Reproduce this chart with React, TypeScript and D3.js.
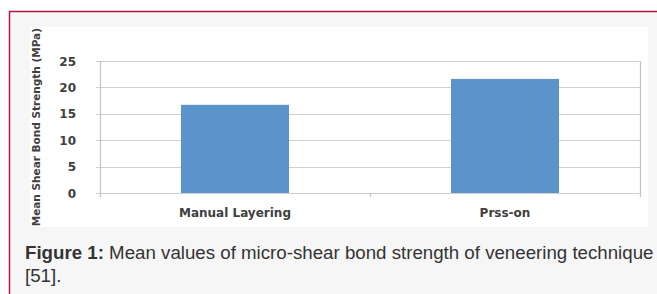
import React, { useEffect, useRef } from 'react';
import * as d3 from 'd3';

const categories = ['Manual Layering', 'Prss-on'];
const meanStrength = [16.7, 21.6];
const yTicks = [0, 5, 10, 15, 20, 25];
const yTitle = 'Mean Shear Bond Strength (MPa)';
const captionBold = 'Figure 1:';
const captionLine1 = ' Mean values of micro-shear bond strength of veneering technique';
const captionLine2 = '[51].';

function App() {
  const ref = useRef<SVGSVGElement>(null);

  useEffect(() => {
    const W = 657;
    const H = 294;
    const svg = d3.select(ref.current);
    svg.selectAll('*').remove();

    const font = "'Liberation Sans', Arial, sans-serif";
    const chartFont = "'DejaVu Sans', Verdana, sans-serif";

    // page + framed box
    svg.append('rect').attr('width', W).attr('height', H).attr('fill', '#ffffff');
    svg.append('rect').attr('x', 9).attr('y', 11).attr('width', W - 9).attr('height', H - 11).attr('fill', '#f7f6f7');
    svg.append('line').attr('x1', 9).attr('x2', W).attr('y1', 11.5).attr('y2', 11.5)
      .attr('stroke', '#b3173f').attr('stroke-width', 1.5);
    svg.append('line').attr('x1', 9.5).attr('x2', 9.5).attr('y1', 11).attr('y2', H)
      .attr('stroke', '#b3173f').attr('stroke-width', 1.5);

    // chart picture area
    const chartBox = { x: 30, y: 27, w: 618, h: 200 };
    svg.append('defs').append('clipPath').attr('id', 'chartClip')
      .append('rect').attr('x', chartBox.x).attr('y', chartBox.y).attr('width', chartBox.w).attr('height', chartBox.h);
    svg.append('rect').attr('x', chartBox.x).attr('y', chartBox.y).attr('width', chartBox.w).attr('height', chartBox.h)
      .attr('fill', '#ffffff');

    const g = svg.append('g').attr('clip-path', 'url(#chartClip)');

    const x = d3.scaleBand<string>().domain(categories).range([100, 640])
      .paddingInner(0.6).paddingOuter(0.3);
    const y = d3.scaleLinear().domain([0, 25]).range([193, 61]);

    // gridlines
    g.selectAll('.grid').data(yTicks).enter().append('line')
      .attr('x1', 96).attr('x2', 640)
      .attr('y1', (d) => Math.round(y(d)) + 0.5).attr('y2', (d) => Math.round(y(d)) + 0.5)
      .attr('stroke', '#cfcfcf').attr('stroke-width', 1.2);

    // axis lines
    g.append('line').attr('x1', 100.5).attr('x2', 100.5).attr('y1', y(25)).attr('y2', y(0))
      .attr('stroke', '#c4c4c4').attr('stroke-width', 1.2);
    g.append('line').attr('x1', 640.5).attr('x2', 640.5).attr('y1', y(25)).attr('y2', y(0))
      .attr('stroke', '#c4c4c4').attr('stroke-width', 1.2);
    const sepTicks = [100, 370, 640];
    g.selectAll('.xt').data(sepTicks).enter().append('line')
      .attr('x1', (d) => d + 0.5).attr('x2', (d) => d + 0.5)
      .attr('y1', y(0)).attr('y2', y(0) + 4)
      .attr('stroke', '#c4c4c4').attr('stroke-width', 1.2);

    // bars
    g.selectAll('.bar').data(categories).enter().append('rect')
      .attr('x', (d) => x(d)!)
      .attr('width', x.bandwidth())
      .attr('y', (d, i) => y(meanStrength[i]))
      .attr('height', (d, i) => y(0) - y(meanStrength[i]))
      .attr('fill', '#5b93cb');

    // y tick labels
    g.selectAll('.yl').data(yTicks).enter().append('text')
      .attr('x', 76).attr('y', (d) => y(d) + 4.5)
      .attr('text-anchor', 'end')
      .style('font-family', chartFont).style('font-size', '12px').style('font-weight', 'bold')
      .attr('fill', '#404040')
      .text((d) => d);

    // x category labels
    g.selectAll('.xl').data(categories).enter().append('text')
      .attr('x', (d) => x(d)! + x.bandwidth() / 2).attr('y', 217)
      .attr('text-anchor', 'middle')
      .style('font-family', chartFont).style('font-size', '12px').style('font-weight', 'bold')
      .attr('fill', '#404040')
      .text((d) => d);

    // y title
    g.append('text')
      .attr('transform', 'translate(40,28) rotate(-90)')
      .attr('text-anchor', 'end')
      .style('font-family', chartFont).style('font-size', '10.5px').style('font-weight', 'bold')
      .attr('fill', '#404040')
      .text(yTitle);

    // caption
    const cap = svg.append('text').attr('x', 25).attr('y', 259)
      .style('font-family', font).style('font-size', '18.7px').attr('fill', '#333333');
    cap.append('tspan').style('font-weight', 'bold').text(captionBold);
    cap.append('tspan').text(captionLine1);
    svg.append('text').attr('x', 25).attr('y', 282)
      .style('font-family', font).style('font-size', '18.7px').attr('fill', '#333333')
      .text(captionLine2);
  }, []);

  return (
    <svg ref={ref} width={657} height={294} style={{ position: 'absolute', left: 0, top: 0, display: 'block' }} />
  );
}

export default App;
